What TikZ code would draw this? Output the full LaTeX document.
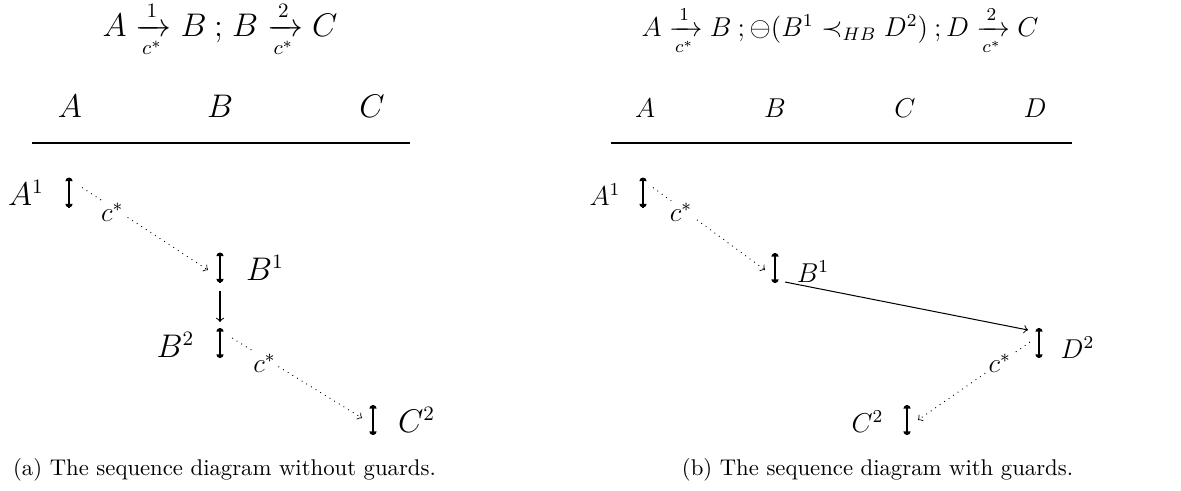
\documentclass[tikz,border=0pt]{standalone}
\usepackage{amsmath,amssymb}
\usetikzlibrary{calc}
\newcommand{\leftsize}{\fontsize{13.4}{16}\selectfont}
\begin{document}
\begin{tikzpicture}[x=0.44pt,y=-0.44pt,
  lbar/.style={rectangle,minimum width=3.08pt,minimum height=13.2pt,inner sep=0pt,outer sep=0pt},
  lab/.style={font=\large,anchor=base,inner sep=0pt},
  labl/.style={font=\leftsize,anchor=base,inner sep=0pt},
  msg/.style={->,dotted,line width=0.4pt},
  ordr/.style={->,line width=0.45pt},
  lbl/.style={font=\large,fill=white,inner sep=1pt},
  lbll/.style={font=\large,fill=white,inner sep=1pt},
  capt/.style={font=\normalsize,anchor=base,inner sep=0pt},
  rule/.style={line width=0.5pt}]
\useasboundingbox (0,0) rectangle (1181,490);

% ---------- left panel ----------
\node[labl] (lf) at (220,36) {$A \xrightarrow[c^*]{1} B\mkern4mu;\mkern2mu B \xrightarrow[c^*]{2} C$};
\node[labl] (lA) at (70,117) {$A$};
\node[labl] (lB) at (220,117) {$B$};
\node[labl] (lC) at (372,117) {$C$};
\coordinate (lr1) at (32,143);
\coordinate (lr2) at (410,143);
\draw[rule] (lr1) -- (lr2);

\node[lbar] (la1) at (69,192.5) {};
\node[lbar] (lb1) at (220,267.5) {};
\node[lbar] (lb2) at (220,343) {};
\node[lbar] (lc2) at (373,420) {};
\node[labl] (la1l) at (26,205) {$A^1$};
\node[labl] (lb1l) at (265,280) {$B^1$};
\node[labl] (lb2l) at (175.5,357) {$B^2$};
\node[labl] (lc2l) at (416.5,432) {$C^2$};

\draw[msg] ($(la1.north)+(13,10)$) -- node[lbll,pos=0.24,yshift=-2.2pt] {$c^*$} ($(lb1.west)+(-8.5,2.5)$);
\draw[ordr] ($(lb1.south)+(0,8)$) -- ($(lb2.north)+(0,-6)$);
\draw[msg] ($(lb2.north)+(12,10)$) -- node[lbll,pos=0.25,yshift=-2.2pt] {$c^*$} ($(lc2.west)+(-7.5,-2)$);

% ---------- right panel ----------
\node[lab] (rf) at (840,36) {$A \xrightarrow[c^*]{1} B\mkern4mu;\ominus(B^1 \prec_{HB} D^2)\mkern4mu; D \xrightarrow[c^*]{2} C$};
\node[lab] (rA) at (645,117) {$A$};
\node[lab] (rB) at (775,117) {$B$};
\node[lab] (rC) at (905,117) {$C$};
\node[lab] (rD) at (1035,117) {$D$};
\coordinate (rr1) at (611,143);
\coordinate (rr2) at (1072,143);
\draw[rule] (rr1) -- (rr2);

\node[lbar] (ra1) at (643,192.5) {};
\node[lbar] (rb1) at (775,268) {};
\node[lbar] (rd2) at (1039,343) {};
\node[lbar] (rc2) at (907,420) {};
\node[lab] (ra1l) at (605,205) {$A^1$};
\node[lab] (rb1l) at (813,282) {$B^1$};
\node[lab] (rd2l) at (1077.5,358) {$D^2$};
\node[lab] (rc2l) at (867.5,432) {$C^2$};

\draw[msg] ($(ra1.north)+(10,10)$) -- node[lbl,pos=0.25,yshift=-1.8pt] {$c^*$} ($(rb1.west)+(-6.5,2)$);
\draw[ordr] ($(rb1.south east)+(6.5,-1)$) -- ($(rd2.north west)+(-7.5,2)$);
\draw[msg] ($(rd2.west)+(-5.5,-1)$) -- node[lbl,pos=0.27] {$c^*$} ($(rc2.east)+(7.5,0)$);

% ---------- lifeline bars ----------
\foreach \n in {la1,lb1,lb2,lc2,ra1,rb1,rd2,rc2}{
  \draw[line width=0.6pt] (\n.north) -- (\n.south);
  \fill ([yshift=-1.6pt]\n.north) ++(-1.6pt,0pt) arc[start angle=180,end angle=0,radius=1.6pt] -- cycle;
  \fill ([yshift=1.6pt]\n.south) ++(-1.6pt,0pt) arc[start angle=180,end angle=360,radius=1.6pt] -- cycle;
}

% ---------- captions ----------
\node[capt] (capa) at (224.5,475) {(a) The sequence diagram without guards.};
\node[capt] (capb) at (877.5,475) {(b) The sequence diagram with guards.};
\end{tikzpicture}
\end{document}
